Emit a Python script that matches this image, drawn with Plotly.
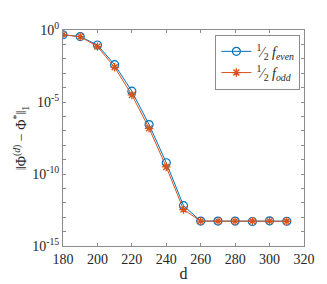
import plotly.graph_objects as go

d = [180, 190, 200, 210, 220, 230, 240, 250, 260, 270, 280, 290, 300, 310]
log_even = [-0.33, -0.46, -1.04, -2.41, -4.25, -6.57, -9.22, -12.2, -13.27, -13.27, -13.27, -13.3, -13.25, -13.28]
log_odd = [-0.33, -0.46, -1.15, -2.59, -4.51, -6.83, -9.51, -12.47, -13.27, -13.27, -13.27, -13.27, -13.27, -13.28]
even = [10 ** v for v in log_even]
odd = [10 ** v for v in log_odd]

xticks = [180, 200, 220, 240, 260, 280, 300, 320]
ytick_exp = list(range(0, -16, -1))
ytick_vals = [10.0 ** k for k in ytick_exp]
ytick_text = [f"10<sup>{k}</sup>" if k % 5 == 0 else "" for k in ytick_exp]

blue = "#0072BD"
orange = "#D95319"
font = "'Liberation Serif', serif"

fig = go.Figure()
fig.add_trace(go.Scatter(
    x=d, y=even, mode="lines+markers",
    name="<sup>1</sup>⁄<sub>2</sub> <i>f<sub>even</sub></i>",
    line=dict(color=blue, width=1),
    marker=dict(symbol="circle-open", size=8, color=blue, line=dict(width=1.2)),
))
fig.add_trace(go.Scatter(
    x=d, y=odd, mode="lines+markers",
    name="<sup>1</sup>⁄<sub>2</sub> <i>f<sub>odd</sub></i>",
    line=dict(color=orange, width=1),
    marker=dict(symbol="asterisk-open", size=7, color=orange, line=dict(width=1.3, color=orange)),
))

axis_common = dict(
    showgrid=False, zeroline=False, showline=True, mirror="ticks",
    linecolor="#8c8c8c", linewidth=1, ticks="inside", ticklen=3,
    tickcolor="#8c8c8c", tickfont=dict(family=font, size=14, color="#262626"),
)

fig.update_layout(
    width=327, height=284,
    margin=dict(l=50, r=31, t=21, b=37),
    paper_bgcolor="white", plot_bgcolor="white",
    font=dict(family=font, color="#262626"),
    showlegend=True,
    legend=dict(
        x=0.985, y=0.978, xanchor="right", yanchor="top",
        bgcolor="white", bordercolor="#8c8c8c", borderwidth=1,
        font=dict(family=font, size=14, color="#262626"),
        tracegroupgap=0, itemwidth=30,
    ),
    xaxis=dict(
        range=[180, 320], tickvals=xticks,
        title=dict(text="d", font=dict(family=font, size=16, color="#262626"), standoff=2),
        **axis_common,
    ),
    yaxis=dict(
        type="log", range=[-15, 0], tickvals=ytick_vals, ticktext=ytick_text,
        title=dict(text="‖Φ<sup>(<i>d</i>)</sup> − Φ<sup>*</sup>‖<sub>1</sub>",
                   font=dict(family=font, size=14, color="#262626"), standoff=2),
        **axis_common,
    ),
)

fig.write_html("out.html")
